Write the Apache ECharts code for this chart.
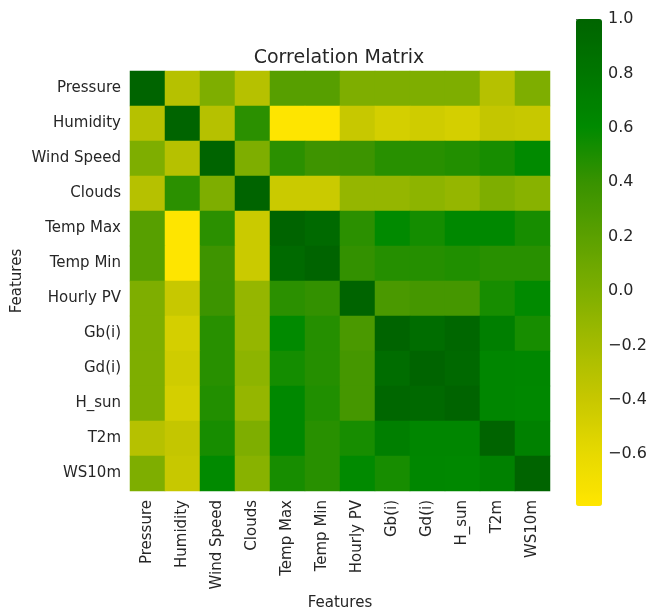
<!DOCTYPE html>
<html>
<head>
<meta charset="utf-8">
<script src="https://cdn.jsdelivr.net/npm/echarts@6/dist/echarts.min.js"></script>
<style>
  html, body { margin: 0; padding: 0; background: #fff; }
  #chart { width: 651px; height: 611px; }
</style>
</head>
<body>
<div id="chart"></div>
<script>
// Feature names (rows top-to-bottom, columns left-to-right)
const features = ["Pressure", "Humidity", "Wind Speed", "Clouds", "Temp Max", "Temp Min",
                  "Hourly PV", "Gb(i)", "Gd(i)", "H_sun", "T2m", "WS10m"];

// Pearson correlation coefficients, one row per feature
const corrPressure  = [1.00, -0.30, 0.00, -0.30, 0.22, 0.22, 0.00, 0.00, 0.00, 0.00, -0.30, 0.00];
const corrHumidity  = [-0.30, 1.00, -0.30, 0.45, -0.78, -0.78, -0.40, -0.48, -0.45, -0.48, -0.38, -0.40];
const corrWindSpeed = [0.00, -0.30, 1.00, 0.00, 0.45, 0.37, 0.38, 0.46, 0.46, 0.48, 0.52, 0.60];
const corrClouds    = [-0.30, 0.45, 0.00, 1.00, -0.42, -0.42, -0.12, -0.12, -0.08, -0.12, 0.00, -0.05];
const corrTempMax   = [0.22, -0.78, 0.45, -0.42, 1.00, 0.93, 0.45, 0.60, 0.53, 0.62, 0.62, 0.52];
const corrTempMin   = [0.22, -0.78, 0.37, -0.42, 0.93, 1.00, 0.42, 0.47, 0.47, 0.49, 0.46, 0.46];
const corrHourlyPV  = [0.00, -0.40, 0.38, -0.12, 0.45, 0.42, 1.00, 0.30, 0.33, 0.33, 0.52, 0.60];
const corrGb        = [0.00, -0.48, 0.46, -0.12, 0.60, 0.47, 0.30, 1.00, 0.90, 0.97, 0.71, 0.52];
const corrGd        = [0.00, -0.45, 0.46, -0.08, 0.53, 0.47, 0.33, 0.90, 1.00, 0.95, 0.64, 0.63];
const corrHsun      = [0.00, -0.48, 0.48, -0.12, 0.62, 0.49, 0.33, 0.97, 0.95, 1.00, 0.64, 0.62];
const corrT2m       = [-0.30, -0.38, 0.52, 0.00, 0.62, 0.46, 0.52, 0.71, 0.64, 0.64, 1.00, 0.69];
const corrWS10m     = [0.00, -0.40, 0.60, -0.05, 0.52, 0.46, 0.60, 0.52, 0.63, 0.62, 0.69, 1.00];

const corrRows = [corrPressure, corrHumidity, corrWindSpeed, corrClouds, corrTempMax, corrTempMin,
                  corrHourlyPV, corrGb, corrGd, corrHsun, corrT2m, corrWS10m];

// Colour bar range and tick values
const scaleMin = -0.79;
const scaleMax = 1.0;
const colorbarTicks = [-0.6, -0.4, -0.2, 0.0, 0.2, 0.4, 0.6, 0.8, 1.0];

// Yellow -> green -> dark green ramp
const rampColors = ["#ffe600", "#e6d900", "#c6c700", "#a3bb00", "#7dae00",
                    "#5aa000", "#389200", "#008a00", "#007600", "#006400"];

const cells = [];
corrRows.forEach((row, r) => {
  row.forEach((v, c) => cells.push([c, r, v]));
});

const textColor = "#262626";
const labelFont = "DejaVu Sans";

const chart = echarts.init(document.getElementById("chart"), null, { renderer: "canvas" });

chart.setOption({
  animation: false,
  backgroundColor: "#ffffff",
  textStyle: { fontFamily: labelFont },
  grid: [
    { left: 130, top: 71, width: 420, height: 420, containLabel: false },
    { left: 576, top: 19, width: 26, height: 487, containLabel: false }
  ],
  xAxis: [
    {
      gridIndex: 0,
      type: "category",
      data: features,
      position: "bottom",
      axisLine: { show: false },
      axisTick: { show: false },
      splitLine: { show: false },
      axisLabel: {
        rotate: 90,
        interval: 0,
        margin: 9,
        fontSize: 15,
        color: textColor,
        fontFamily: labelFont
      }
    },
    {
      gridIndex: 1,
      type: "value",
      show: false
    }
  ],
  yAxis: [
    {
      gridIndex: 0,
      type: "category",
      data: features,
      inverse: true,
      axisLine: { show: false },
      axisTick: { show: false },
      splitLine: { show: false },
      axisLabel: {
        interval: 0,
        margin: 9,
        fontSize: 15,
        color: textColor,
        fontFamily: labelFont
      }
    },
    {
      gridIndex: 1,
      type: "value",
      position: "right",
      min: scaleMin,
      max: scaleMax,
      axisLine: { show: true, lineStyle: { color: "rgba(0,0,0,0)" } },
      splitLine: { show: false },
      axisTick: {
        show: true,
        inside: false,
        length: 4,
        lineStyle: { color: "#555", width: 1 },
        customValues: colorbarTicks
      },
      axisLabel: {
        show: true,
        margin: 6,
        fontSize: 16,
        color: textColor,
        fontFamily: labelFont,
        customValues: colorbarTicks,
        formatter: (v) => {
          const s = Math.abs(v).toFixed(1);
          return (v < -1e-9 ? "\u2212" : "") + s;
        }
      }
    }
  ],
  visualMap: {
    type: "continuous",
    seriesIndex: 0,
    min: scaleMin,
    max: scaleMax,
    orient: "vertical",
    left: 576,
    top: 19,
    itemWidth: 26,
    itemHeight: 487,
    padding: 0,
    calculable: false,
    showLabel: false,
    text: null,
    inRange: { color: rampColors }
  },
  graphic: [
    {
      type: "text",
      x: 339,
      y: 58,
      style: {
        text: "Correlation Matrix",
        fontSize: 19,
        fontFamily: labelFont,
        fill: textColor,
        align: "center",
        verticalAlign: "middle"
      }
    },
    {
      type: "text",
      x: 340,
      y: 603,
      style: {
        text: "Features",
        fontSize: 15,
        fontFamily: labelFont,
        fill: textColor,
        align: "center",
        verticalAlign: "middle"
      }
    },
    {
      type: "text",
      x: 17,
      y: 281,
      rotation: Math.PI / 2,
      style: {
        text: "Features",
        fontSize: 15,
        fontFamily: labelFont,
        fill: textColor,
        align: "center",
        verticalAlign: "middle"
      }
    }
  ],
  series: [
    {
      type: "heatmap",
      xAxisIndex: 0,
      yAxisIndex: 0,
      data: cells,
      itemStyle: { borderWidth: 0 },
      emphasis: { disabled: true },
      progressive: 0
    }
  ]
});
</script>
</body>
</html>
